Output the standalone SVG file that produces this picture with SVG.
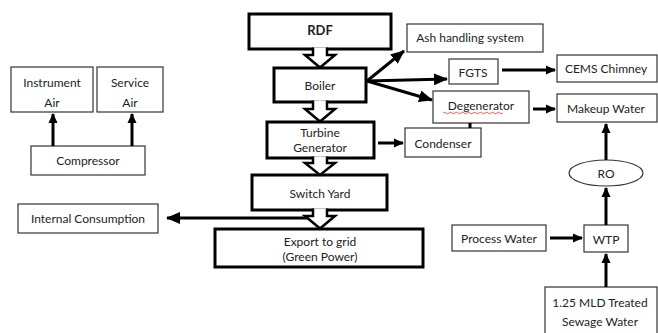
<svg xmlns="http://www.w3.org/2000/svg" width="658" height="333" viewBox="0 0 658 333">
<defs>
<style>
.thin{fill:#fff;stroke:#333;stroke-width:1.2}
.thick{fill:#fff;stroke:#000;stroke-width:3}
.t{font-family:Lato,"Open Sans",sans-serif;font-size:12px;fill:#222;text-anchor:middle;dominant-baseline:central}
.b{font-weight:bold;font-size:13px}
.c{stroke:#000;stroke-width:3;fill:none}
.blk{fill:#fff;stroke:#000;stroke-width:2.5;stroke-linejoin:miter}
</style>
<marker id="ah" markerUnits="userSpaceOnUse" markerWidth="14" markerHeight="12" refX="13" refY="6" orient="auto">
<path d="M0,0 L14,6 L0,12 z" fill="#000"/>
</marker>
<marker id="ahs" markerUnits="userSpaceOnUse" markerWidth="10" markerHeight="10" refX="9" refY="5" orient="auto">
<path d="M0,0.5 L10,5 L0,9.5 z" fill="#000"/>
</marker>
</defs>
<g id="instrument-air"><rect class="thin" x="11" y="67" width="82" height="45"/><text class="t" x="52" y="82">Instrument</text><text class="t" x="52" y="102">Air</text></g>
<g id="service-air"><rect class="thin" x="97" y="67" width="66" height="45"/><text class="t" x="130" y="82">Service</text><text class="t" x="130" y="102">Air</text></g>
<g id="compressor"><rect class="thin" x="31" y="146" width="114" height="29"/><text class="t" x="88" y="160">Compressor</text></g>
<g id="rdf"><rect class="thick" x="249" y="14" width="142" height="35"/><text class="t b" x="320" y="30">RDF</text></g>
<g id="boiler"><rect class="thick" x="274" y="68" width="92" height="34"/><text class="t" x="320" y="85">Boiler</text></g>
<g id="turbine"><rect class="thick" x="267" y="122" width="107" height="36"/><text class="t" x="320" y="132">Turbine</text><text class="t" x="320" y="147">Generator</text></g>
<g id="switch-yard"><rect class="thick" x="252" y="175" width="135" height="35"/><text class="t" x="320" y="193">Switch Yard</text></g>
<g id="export"><rect class="thick" x="215" y="229" width="208" height="38"/><text class="t" x="320" y="241">Export to grid</text><text class="t" x="320" y="256">(Green Power)</text></g>
<g id="internal-consumption"><rect class="thin" x="18" y="204" width="140" height="29"/><text class="t" x="88" y="218">Internal Consumption</text></g>
<g id="ash"><rect class="thin" x="407" y="24" width="136" height="28"/><text class="t" x="470" y="37">Ash handling system</text></g>
<g id="fgts"><rect class="thin" x="449" y="59" width="49" height="25"/><text class="t" x="473" y="72">FGTS</text></g>
<g id="cems"><rect class="thin" x="557" y="55" width="100" height="27"/><text class="t" x="606" y="68">CEMS Chimney</text></g>
<g id="degenerator"><rect class="thin" x="433" y="91" width="96" height="32"/><text class="t" x="481" y="105">Degenerator</text><path d="M443,113 q1.5,-1.5 3,0 t3,0 t3,0 t3,0 t3,0 t3,0 t3,0 t3,0 t3,0 t3,0 t3,0 t3,0 t3,0 t3,0 t3,0 t3,0 t3,0 t3,0 t3,0 t3,0" fill="none" stroke="#d33" stroke-width="0.8"/></g>
<g id="makeup"><rect class="thin" x="557" y="94" width="100" height="28"/><text class="t" x="606" y="108">Makeup Water</text></g>
<g id="condenser"><rect class="thin" x="405" y="128" width="76" height="29"/><text class="t" x="443" y="143">Condenser</text></g>
<g id="ro"><ellipse class="thin" cx="606" cy="173" rx="37" ry="13"/><text class="t" x="606" y="173">RO</text></g>
<g id="process-water"><rect class="thin" x="452" y="225" width="94" height="26"/><text class="t" x="499" y="238">Process Water</text></g>
<g id="wtp"><rect class="thin" x="584" y="225" width="44" height="27"/><text class="t" x="606" y="239">WTP</text></g>
<g id="sewage"><rect class="thin" x="545" y="287" width="112" height="50"/><text class="t" x="600" y="302">1.25 MLD Treated</text><text class="t" x="600" y="321">Sewage Water</text></g>
<g id="connectors">
<line class="c" x1="53" y1="146" x2="53" y2="114" marker-end="url(#ahs)"/>
<line class="c" x1="132" y1="146" x2="132" y2="114" marker-end="url(#ahs)"/>
<line class="c" x1="367" y1="81" x2="404" y2="51" marker-end="url(#ah)"/>
<line class="c" x1="367" y1="81" x2="447" y2="79" marker-end="url(#ah)"/>
<line class="c" x1="367" y1="81" x2="432" y2="100" marker-end="url(#ah)"/>
<line class="c" x1="502" y1="70" x2="555" y2="70" marker-end="url(#ahs)"/>
<line class="c" x1="533" y1="109" x2="555" y2="109" marker-end="url(#ahs)"/>
<line class="c" x1="378" y1="143" x2="403" y2="143" marker-end="url(#ahs)"/>
<line class="c" x1="470" y1="128" x2="470" y2="123"/>
<line class="c" x1="606" y1="160" x2="606" y2="124" marker-end="url(#ahs)"/>
<line class="c" x1="606" y1="225" x2="606" y2="188" marker-end="url(#ahs)"/>
<line class="c" x1="550" y1="238" x2="582" y2="238" marker-end="url(#ahs)"/>
<line class="c" x1="606" y1="287" x2="606" y2="254" marker-end="url(#ahs)"/>
<line class="c" x1="316" y1="218" x2="167" y2="218" stroke-width="3.5" marker-end="url(#ah)"/>
<path class="blk" d="M313,47.6 L313,55 L305,55 L320,67.5 L335,55 L327,55 L327,47.6"/>
<path class="blk" d="M313,100.6 L313,109 L305,109 L320,121.5 L335,109 L327,109 L327,100.6"/>
<path class="blk" d="M313,156.6 L313,163 L305,163 L320,175 L335,163 L327,163 L327,156.6"/>
<path class="blk" d="M313,208.6 L313,216 L305,216 L320,228.5 L335,216 L327,216 L327,208.6"/>
</g>
</svg>
